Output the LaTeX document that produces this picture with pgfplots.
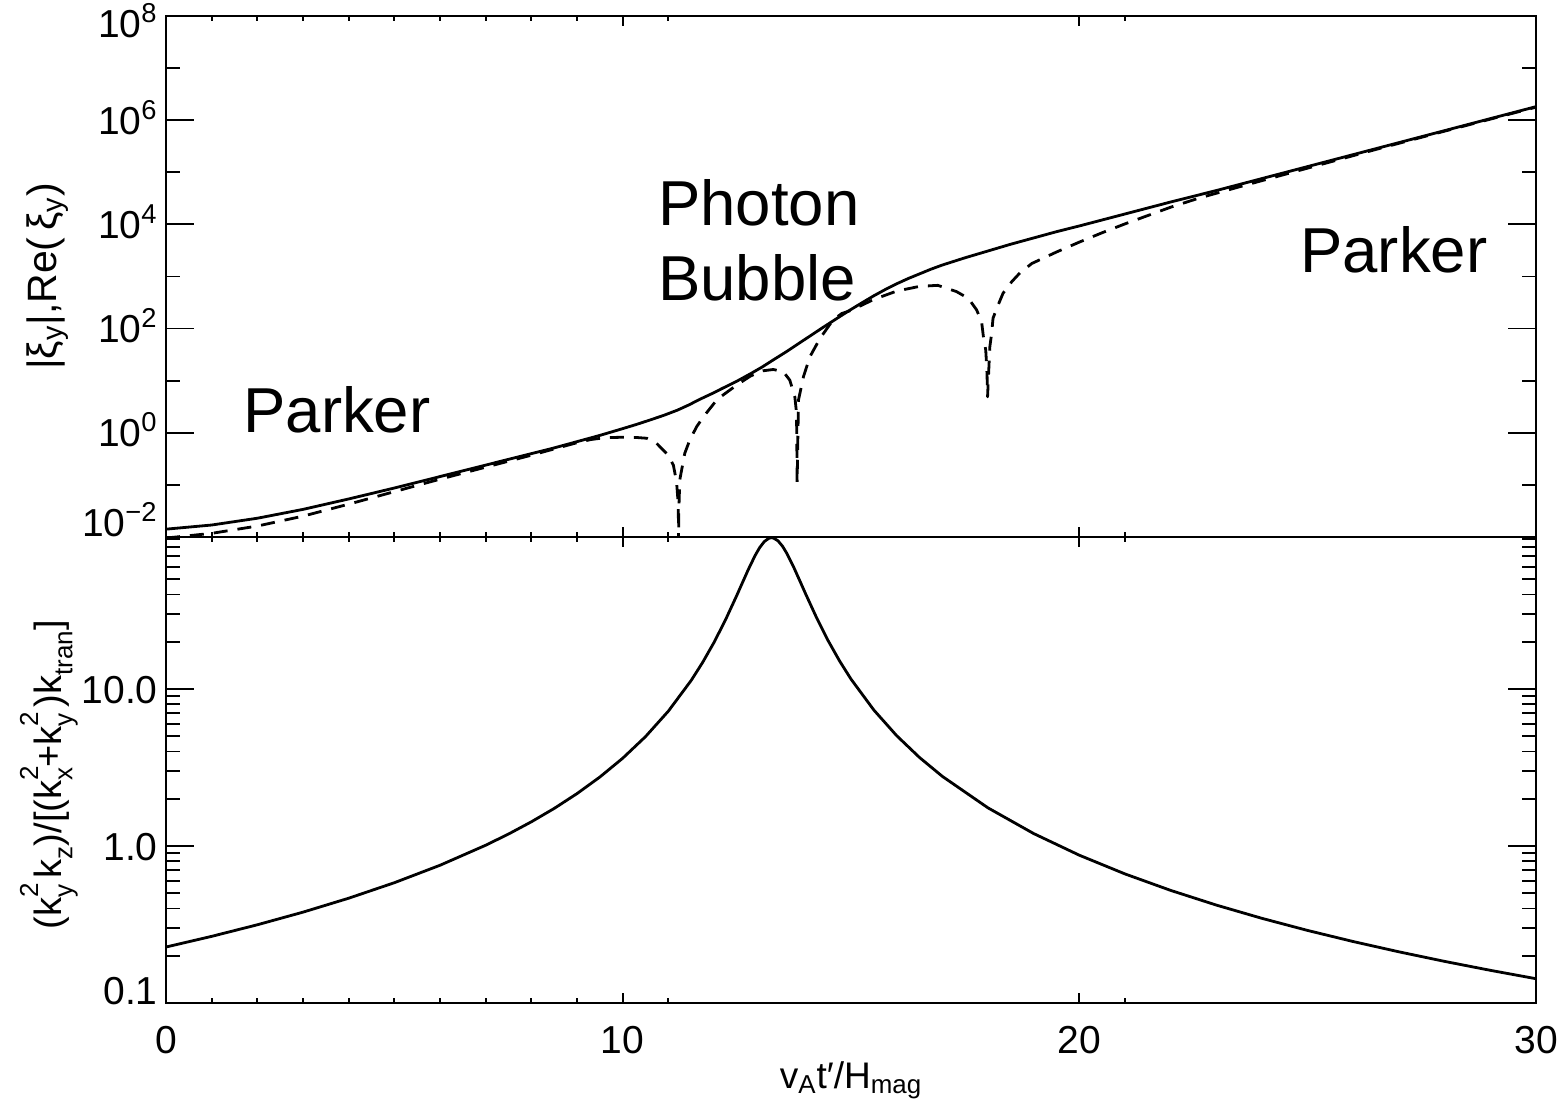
\documentclass[border=0pt]{standalone}
\usepackage{fontspec}
\setmainfont{Liberation Sans}
\usepackage{pgfplots}
\pgfplotsset{compat=1.18}
\newcommand\sbs[1]{\raisebox{-0.28em}{\fontsize{13}{13}\selectfont #1}}
\newcommand\kk[2]{k\rlap{\raisebox{0.62em}{\fontsize{13}{13}\selectfont #1}}\sbs{#2}}
\begin{document}
\begin{tikzpicture}
\useasboundingbox (-83pt,8pt) rectangle (700.5pt,-547.5pt);
\pgfplotsset{
  every axis/.append style={
    scale only axis, width=685pt, xmin=0, xmax=30,
    axis line style={line width=1pt},
    tick style={line width=0.9pt, black},
    xtick={0,10,20,30},
    minor xtick={1,...,9,11,...,19,21,...,29},
    major tick length=14pt, minor tick length=7pt,
    major x tick style={/pgfplots/major tick length=5pt},
    minor x tick style={/pgfplots/minor tick length=2.5pt},
    font=\fontsize{19.5}{23}\selectfont,
    yticklabel style={anchor=base east, inner sep=0pt, xshift=-4pt, yshift=-7pt},
    xticklabel style={anchor=north, inner sep=0pt, yshift=-11.3pt},
  }
}
% ---------------- top panel ----------------
\begin{axis}[at={(0,0)}, anchor=north west, height=260.5pt,
  ymode=log, ymin=1e-2, ymax=1e8,
  ytick={1e-2,1,1e2,1e4,1e6,1e8},
  minor ytick={1e-1,1e1,1e3,1e5,1e7},
  yticklabels={\raisebox{7pt}{10\textsuperscript{−2}},10\textsuperscript{0},10\textsuperscript{2},10\textsuperscript{4},10\textsuperscript{6},\raisebox{-3.75pt}{10\textsuperscript{8}}},
  xticklabels={,,,},
  ylabel={|ξ\textsubscript{y}|,Re(\,ξ\textsubscript{y})},
  ylabel style={at={(axis description cs:-0.0865,0.5)}, anchor=center, rotate=0, font=\fontsize{20.5}{24}\selectfont},
]
\addplot[black, line width=1.4pt, line join=round] coordinates {
(0,0.01413) (1,0.01698) (2,0.02291) (3,0.03388) (4,0.05370) (5,0.08710)
(6,0.1445) (7,0.2399) (8,0.3981) (8.5,0.5129) (9,0.6761) (9.5,0.8913)
(10,1.202) (10.3,1.445) (10.6,1.762) (10.9,2.163) (11.2,2.723) (11.45,3.428)
(11.69,4.395) (11.95,5.623) (12.2,7.244) (12.5,9.772) (12.79,13.46) (13.05,18.20)
(13.3,25.12) (13.6,36.73) (13.88,53.58) (14.15,76.74) (14.4,107.2) (14.7,158.5)
(14.98,227.5) (15.25,316.2) (15.5,426.6) (15.75,562.3) (16,724.4) (16.25,912.0)
(16.5,1122) (16.75,1380) (17,1660) (17.5,2291) (18,3090) (18.5,4169) (19,5495)
(19.5,7244) (20,9333) (21,15849)
(22,26915) (23,44668) (24,75858) (25,128825) (26,218776) (27,371535)
(28,630957) (29,1071519) (30,1819701)
};
\addplot[black, line width=1.4pt, dash pattern=on 7pt off 5pt, line join=round] coordinates {
(0,0.00955) (1,0.01175) (2,0.01622) (3,0.02512) (4,0.04266) (5,0.07413)
(6,0.1288) (7,0.2188) (8,0.3715) (8.5,0.4898) (9,0.6457) (9.3,0.7413)
(9.6,0.8035) (10,0.8222) (10.3,0.8128) (10.53,0.7852) (10.74,0.6310)
(11.0,0.3715) (11.11,0.2399) (11.18,0.1148) (11.21,0.05129) (11.22,0.02455)
(11.225,0.00794) (11.23,0.0316) (11.25,0.1242) (11.36,0.4046) (11.47,0.7278)
(11.62,1.309) (11.77,2.037) (12.06,4.266) (12.2,5.321) (12.5,8.279)
(12.8,12.30) (13.07,15.49) (13.3,16.41) (13.52,14.79) (13.66,10.23)
(13.77,4.898) (13.80,2.754) (13.81,1.318) (13.815,0.4677) (13.82,0.1096)
(13.85,4.266) (13.96,12.02) (14.1,28.84) (14.32,64.57) (14.61,147.9)
(14.8,195.0) (15.0,223.9) (15.5,363.1) (16,524.8) (16.5,645.7) (16.9,676.1)
(17.31,512.9) (17.57,380.2) (17.75,229.1) (17.86,134.9) (17.9,69.18)
(17.95,38.90) (17.97,19.95) (17.98,12.02) (17.985,7.244) (17.99,4.898)
(18.04,44.67) (18.08,81.28) (18.11,158.5) (18.22,281.8) (18.33,478.6)
(18.52,794.3) (18.7,1175) (18.96,1778) (19.5,2951) (20,4571) (20.5,6918)
(21,10233) (21.5,14791) (22,21380) (22.64,32359) (23.5,52481) (24.5,91201)
(25.5,158489) (26.5,275423) (28,616595) (30,1778279)
};
\node[font=\fontsize{31.75}{36}\selectfont, anchor=west, inner sep=0pt] at (axis cs:1.686,2.754) {Parker};
\node[font=\fontsize{31.75}{36}\selectfont, anchor=west, inner sep=0pt] at (axis cs:10.77,25700) {Photon};
\node[font=\fontsize{31.75}{36}\selectfont, anchor=west, inner sep=0pt] at (axis cs:10.77,933) {Bubble};
\node[font=\fontsize{31.75}{36}\selectfont, anchor=west, inner sep=0pt] at (axis cs:24.83,3236) {Parker};
\end{axis}
% ---------------- bottom panel ----------------
\begin{axis}[at={(0,-260.5pt)}, anchor=north west, height=233pt,
  ymode=log, ymin=0.1, ymax=93,
  ytick={0.1,1,10},
  minor ytick={0.2,0.3,0.4,0.5,0.6,0.7,0.8,0.9,2,3,4,5,6,7,8,9,20,30,40,50,60,70,80,90},
  yticklabels={\raisebox{6.5pt}{0.1},1.0,10.0},
  xticklabels={0,10,20,30},
  xlabel={v\textsubscript{A}t′/H\textsubscript{mag}},
  xlabel style={at={(axis description cs:0.5,-0.165)}, anchor=center, font=\fontsize{18.5}{22}\selectfont},
  ylabel={(\kk{2}{y}\,k\sbs{z})/[(\kk{2}{x}+\kk{2}{y}\,)k\sbs{tran}]},
  ylabel style={at={(axis description cs:-0.0855,0.49)}, anchor=center, rotate=0, font=\fontsize{19}{23}\selectfont},
]
\addplot[black, line width=1.4pt, line join=round] coordinates {
(0,0.2273) (1,0.2658) (2,0.3150) (3,0.3791) (4,0.4650) (5,0.5837) (6,0.7541)
(7,1.0114) (7.5,1.192) (8,1.426) (8.5,1.735) (9,2.157) (9.5,2.750) (10,3.623)
(10.5,4.976) (11,7.230) (11.5,11.34) (11.75,14.76) (12,19.81) (12.25,27.52)
(12.5,39.55) (12.6,46.0) (12.75,57.60) (12.9,70.90) (13,79.64) (13.1,86.89)
(13.2,91.25) (13.26,92) (13.3,91.66) (13.4,88.04) (13.5,81.25) (13.6,72.71)
(13.75,59.31) (13.9,47.41) (14,40.76) (14.25,28.31) (14.5,20.31) (14.75,15.09)
(15,11.57) (15.5,7.349) (16,5.045) (16.5,3.665) (17,2.778) (18,1.750)
(19,1.2005) (20,0.8738) (21,0.6641) (22,0.5216) (23,0.4205) (24,0.3461)
(25,0.2898) (26,0.2462) (27,0.2118) (28,0.1841) (29,0.1615) (30,0.1428)
};
\end{axis}
\end{tikzpicture}
\end{document}
